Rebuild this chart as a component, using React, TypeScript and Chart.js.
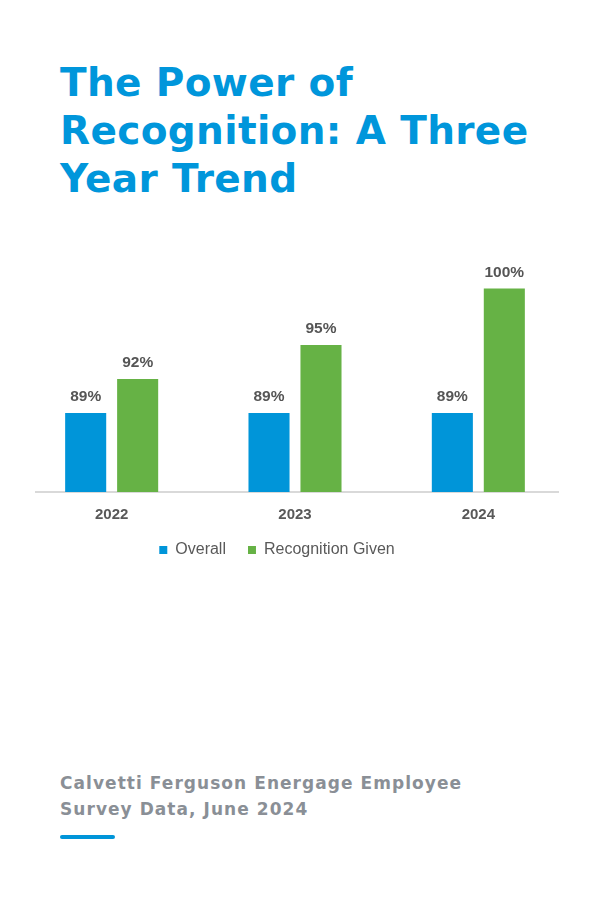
import React, { useEffect, useRef } from "react";
import { Chart, registerables } from "chart.js";

Chart.register(...registerables);

const categories = ["2022", "2023", "2024"];
const overallValues = [89, 89, 89];
const recognitionValues = [92, 95, 100];
const seriesNames = ["Overall", "Recognition Given"];

const BLUE = "#0095D9";
const GREEN = "#66B245";

const dataLabelPlugin = {
  id: "dataLabels",
  afterDatasetsDraw(chart: any) {
    const ctx = chart.ctx;
    ctx.save();
    ctx.font = "bold 15.5px 'Liberation Sans', Arial, sans-serif";
    ctx.fillStyle = "#555555";
    ctx.textAlign = "center";
    ctx.textBaseline = "middle";
    chart.data.datasets.forEach((ds: any, di: number) => {
      const meta = chart.getDatasetMeta(di);
      meta.data.forEach((bar: any, i: number) => {
        ctx.fillText(ds.data[i] + "%", bar.x, bar.y - 16);
      });
    });
    ctx.restore();
  },
};

const baselinePlugin = {
  id: "baseline",
  beforeDatasetsDraw(chart: any) {
    const { ctx, chartArea, scales } = chart;
    const y = scales.y.getPixelForValue(scales.y.min);
    ctx.save();
    ctx.strokeStyle = "#D9D9D9";
    ctx.lineWidth = 2;
    ctx.beginPath();
    ctx.moveTo(chartArea.left + 15, y);
    ctx.lineTo(chartArea.right - 11, y);
    ctx.stroke();
    ctx.restore();
  },
};

const legendShiftPlugin = {
  id: "legendShift",
  afterLayout(chart: any) {
    if (chart.legend) {
      chart.legend.left -= 18;
      chart.legend.right -= 18;
    }
  },
};

function BarChart() {
  const ref = useRef<HTMLCanvasElement>(null);
  useEffect(() => {
    if (!ref.current) return;
    const chart = new Chart(ref.current, {
      type: "bar",
      data: {
        labels: categories,
        datasets: [
          {
            label: seriesNames[0],
            data: overallValues,
            backgroundColor: BLUE,
            categoryPercentage: 0.567,
            barPercentage: 0.79,
          },
          {
            label: seriesNames[1],
            data: recognitionValues,
            backgroundColor: GREEN,
            categoryPercentage: 0.567,
            barPercentage: 0.79,
          },
        ],
      },
      options: {
        animation: false,
        responsive: false,
        maintainAspectRatio: false,
        layout: { padding: { left: 20, right: 30, top: 26, bottom: 0 } },
        scales: {
          y: {
            display: false,
            min: 82,
            max: 102,
          },
          x: {
            grid: { display: false, drawTicks: false },
            border: { display: false },
            afterFit(scale: any) {
              scale.height -= 18;
            },
            ticks: {
              color: "#595959",
              padding: 14,
              font: { family: "'Liberation Sans', Arial, sans-serif", size: 15, weight: "bold" },
            },
          },
        },
        plugins: {
          tooltip: { enabled: false },
          legend: {
            position: "bottom",
            labels: {
              color: "#595959",
              boxWidth: 8,
              boxHeight: 8,
              padding: 22,
              font: { family: "'Liberation Sans', Arial, sans-serif", size: 16 },
            },
          },
        },
      },
      plugins: [dataLabelPlugin, baselinePlugin, legendShiftPlugin],
    });
    return () => chart.destroy();
  }, []);
  return (
    <canvas
      ref={ref}
      width={600}
      height={328}
      style={{ position: "absolute", left: 0, top: 240, width: 600, height: 328 }}
    />
  );
}

export default function App() {
  return (
    <div
      style={{
        position: "absolute",
        left: 0,
        top: 0,
        width: 600,
        height: 900,
        background: "#ffffff",
        overflow: "hidden",
      }}
    >
      <div
        style={{
          position: "absolute",
          left: 60,
          top: 59,
          width: 540,
          fontFamily: "'DejaVu Sans', sans-serif",
          fontWeight: "bold",
          fontSize: 39,
          lineHeight: "48px",
          color: "#0096DB",
          letterSpacing: 0.35,
          whiteSpace: "nowrap",
        }}
      >
        The Power of
        <br />
        Recognition: A Three
        <br />
        Year Trend
      </div>
      <BarChart />
      <div
        style={{
          position: "absolute",
          left: 60,
          top: 770,
          fontFamily: "'DejaVu Sans', sans-serif",
          fontWeight: "bold",
          fontSize: 17,
          lineHeight: "26px",
          color: "#8A8F96",
          letterSpacing: 1.05,
          whiteSpace: "nowrap",
        }}
      >
        Calvetti Ferguson Energage Employee
        <br />
        Survey Data, June 2024
      </div>
      <div
        style={{
          position: "absolute",
          left: 60,
          top: 835,
          width: 55,
          height: 4,
          borderRadius: 2,
          background: "#0095D9",
        }}
      />
    </div>
  );
}
